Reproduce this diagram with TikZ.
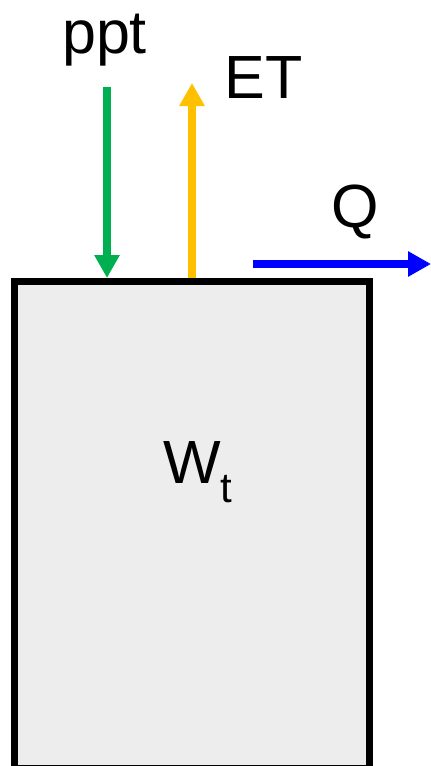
\documentclass[tikz,border=0pt]{standalone}
\usepackage{fontspec}
\setmainfont{Liberation Sans}
\usepackage{tikz}
\usetikzlibrary{arrows.meta}
\usepackage{xcolor}
\definecolor{pptgreen}{RGB}{0,176,80}
\definecolor{etorange}{RGB}{255,192,0}
\definecolor{qblue}{RGB}{0,0,255}

\begin{document}
\begin{tikzpicture}[
		x=0.5pt, y=-0.5pt,
		b/.style = {rectangle, draw=black, fill=black!7, line width=3.5pt, inner sep=0, minimum width=177.5pt, minimum height=243.25pt},
		l/.style = {anchor=base, inner sep=0, font=\fontsize{30.5}{36}\selectfont},
		f/.style = {line width=3.75pt, -{Triangle[length=11.5pt, width=12pt]}}
		]
		\useasboundingbox (0,0) rectangle (431,766);
		
		%Nodes
		\node[b]	(soil)	at	(191.5, 524.75)	{};
		\node[l, anchor=base west]	(wt)	at	(163, 483)	{W\raisebox{-9.5pt}{\fontsize{21}{24}\selectfont t}};
		\node[l]	(ppt)	at	(104.5, 53)		{ppt};
		\node[l]	(et)	at	(263.5, 98)		{ET};
		\node[l]	(q)		at	(355, 227)		{Q};
		\coordinate	(rain)	at	(107, 87);
		\coordinate	(evap)	at	(192, 83);
		\coordinate	(qstart)	at	(253, 264);
		\coordinate	(qend)	at	(431, 264);
		
		%Lines
		\draw[f, pptgreen]	(rain)	--	(rain |- soil.north);
		\draw[f, etorange]	(evap |- soil.north)	--	(evap);
		\draw[f, qblue]		(qstart)	--	(qend);
	\end{tikzpicture}
\end{document}
